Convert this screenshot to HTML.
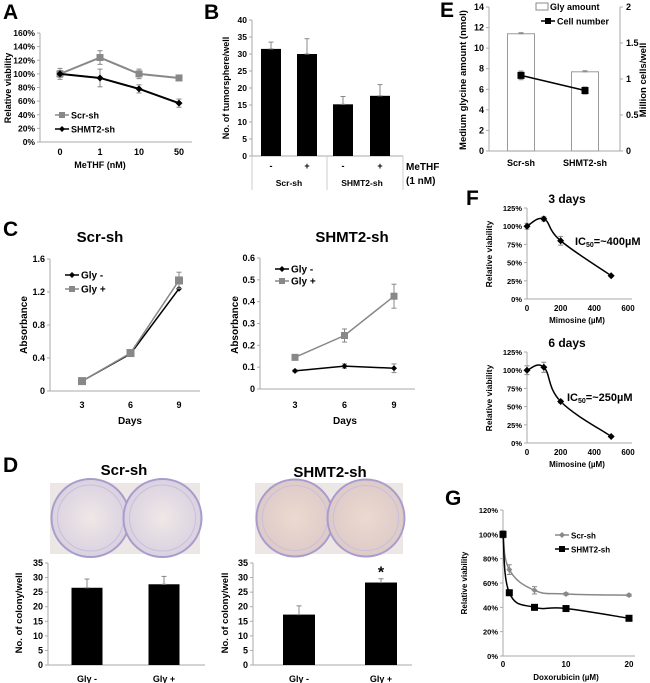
<!DOCTYPE html>
<html><head><meta charset="utf-8"><style>
body{margin:0;background:#fff}
svg{display:block;font-family:"Liberation Sans",Arial,sans-serif;font-weight:bold}
</style></head><body>
<svg id="fig" width="650" height="683" viewBox="0 0 650 683" xmlns="http://www.w3.org/2000/svg">
<defs>
<radialGradient id="dish" cx="50%" cy="50%" r="55%"><stop offset="0" stop-color="#efe8e6"/><stop offset="1" stop-color="#d8cfe0"/></radialGradient>
<radialGradient id="dish2" cx="50%" cy="50%" r="55%"><stop offset="0" stop-color="#ecd9cf"/><stop offset="1" stop-color="#dcc9c8"/></radialGradient>
</defs>
<g id="root"></g>
</svg>
<script>
// ---- Data ----
const aCats=["0","1","10","50"];
const aScr=[100,124,100,94], aScrErr=[8,10,7,2];
const aSh=[100,94,78,57], aShErr=[5,13,6,6];
const aTicks=[0,20,40,60,80,100,120,140,160];
const bVals=[31.5,30,15.2,17.7], bErr=[2,4.5,2.3,3.3];
const bCats=["-","+","-","+"];
const bTicks=[0,5,10,15,20,25,30,35,40];
const eCats=["Scr-sh","SHMT2-sh"];
const eGly=[11.4,7.7], eGlyErr=[0.1,0.1];
const eCells=[1.05,0.84], eCellsErr=[0.06,0.05];
const eTicksL=[0,2,4,6,8,10,12,14], eTicksR=[0,0.5,1,1.5,2];
const cDays=[3,6,9];
const cScrMinus=[0.12,0.45,1.24], cScrPlus=[0.12,0.46,1.34], cScrPlusErr=[0.02,0.03,0.1];
const cShMinus=[0.083,0.105,0.095], cShMinusErr=[0.005,0.01,0.02];
const cShPlus=[0.145,0.245,0.425], cShPlusErr=[0.005,0.03,0.055];
const cTicksScr=[0,0.4,0.8,1.2,1.6], cTicksSh=[0,0.1,0.2,0.3,0.4,0.5,0.6];
const dCats=["Gly -","Gly +"];
const dScr=[26.5,27.7], dScrErr=[3,2.7];
const dSh=[17.3,28.3], dShErr=[3,1.3];
const dTicks=[0,5,10,15,20,25,30,35];
const fDose=[0,100,200,500];
const f3=[100,110,80,32], f3Err=[4,3,6,1];
const f6=[100,104,57,9], f6Err=[6,7,2,1];
const fTicks=[0,25,50,75,100,125], fXTicks=[0,200,400,600];
const gDose=[0,1,5,10,20];
const gScr=[100,71,54,51,50], gScrErr=[3,4,3,1,1];
const gSh=[100,52,40,39,31], gShErr=[1,1,1,1,1];
const gTicks=[0,20,40,60,80,100,120], gXTicks=[0,10,20];

const NS="http://www.w3.org/2000/svg";
const root=document.getElementById('root');
function el(tag,attrs,parent,txt){const e=document.createElementNS(NS,tag);for(const k in attrs)e.setAttribute(k,attrs[k]);if(txt!==undefined)e.textContent=txt;(parent||root).appendChild(e);return e;}
function text(x,y,s,size,name,opts){opts=opts||{};const t=el('text',{x:x,y:y,'font-size':size,'text-anchor':opts.anchor||'middle',fill:opts.fill||'#000'},opts.parent,s);


if(opts.rot)t.setAttribute('transform','rotate(-90 '+x+' '+y+')');return t;}
function line(x1,y1,x2,y2,c,w,name){const l=el('line',{x1:x1,y1:y1,x2:x2,y2:y2,stroke:c||'#aaa','stroke-width':w||1});

return l;}
function lin(d0,d1,r0,r1){return v=>r0+(v-d0)*(r1-r0)/(d1-d0);}
function yAxis(x,y,ticks,fmt,size,name,right){ticks.forEach(t=>{const yy=y(t);line(right?x:x-3,yy,right?x+3:x,yy,'#aaa',1,name+'-tick');text(right?x+6:x-5,yy+3,fmt(t),size,name+'-label',{anchor:right?'start':'end'});});line(x,y(ticks[ticks.length-1]),x,y(ticks[0]),'#aaa',1,name);}
function errBar(x,y1,y2,c,name){const g=el('g',{});
el('line',{x1:x,y1:y1,x2:x,y2:y2,stroke:c,'stroke-width':1},g);el('line',{x1:x-2.5,y1:y1,x2:x+2.5,y2:y1,stroke:c,'stroke-width':1},g);el('line',{x1:x-2.5,y1:y2,x2:x+2.5,y2:y2,stroke:c,'stroke-width':1},g);}
function marker(x,y,shape,c,s,name){let m;if(shape==='sq')m=el('rect',{x:x-s,y:y-s,width:2*s,height:2*s,fill:c});else m=el('path',{d:`M${x} ${y-s}L${x+s} ${y}L${x} ${y+s}L${x-s} ${y}Z`,fill:c});

}
function series(xs,vals,errs,x,y,c,shape,s,name,w,smooth){const pts=vals.map((v,i)=>[x(xs[i]),y(v)]);
let d='M'+pts.map(p=>p.join(' ')).join('L');
if(smooth){d='M'+pts[0][0]+' '+pts[0][1];for(let i=0;i<pts.length-1;i++){const p0=pts[Math.max(0,i-1)],p1=pts[i],p2=pts[i+1],p3=pts[Math.min(pts.length-1,i+2)];const t=0.2;d+=`C${p1[0]+(p2[0]-p0[0])*t} ${p1[1]+(p2[1]-p0[1])*t} ${p2[0]-(p3[0]-p1[0])*t} ${p2[1]-(p3[1]-p1[1])*t} ${p2[0]} ${p2[1]}`;}}
const p=el('path',{d:d,fill:'none',stroke:c,'stroke-width':w||1.5});


if(errs)vals.forEach((v,i)=>errBar(pts[i][0],y(v+errs[i]),y(v-errs[i]),'#888',name+'-error'));
pts.forEach(p=>marker(p[0],p[1],shape,c,s,name+'-point'));}
function legend(x,y,shape,c,label,size,name){const l=line(x,y,x+14,y,c,1.5,name+'-swatch');marker(x+7,y,shape,c,3,name+'-marker');text(x+16,y+3.5,label,size,name,{anchor:'start'});}
function bars(cx,vals,errs,y,w,fill,stroke,name){vals.forEach((v,i)=>{const r=el('rect',{x:cx[i]-w/2,y:y(v),width:w,height:y(0)-y(v),fill:fill,stroke:stroke||'none'});


if(errs)errBar(cx[i],y(v+errs[i]),y(v),'#888',name+'-error');});}
const pct=t=>t+'%';

// Panel letters
[["A",3,19],["B",204,19],["E",440,17],["C",3,236],["F",466,205],["D",3,472],["G",445,505]].forEach(p=>text(p[1],p[2],p[0],21,'panel-label-'+p[0].toLowerCase(),{anchor:'start'}));

// ---- A ----
{const y=lin(0,160,142,33);const x=i=>[60,100,139,179][i];
yAxis(40,y,aTicks,pct,8.5,'a-y-axis');line(40,142,192,142,'#aaa',1,'a-x-axis');
aCats.forEach((c,i)=>text(x(i),155,c,9,'a-x-label'));
text(100,168,'MeTHF (nM)',9,'a-x-title');text(11,88,'Relative viability',9,'a-y-title',{rot:1});
const idx=[0,1,2,3];
series(idx,aScr,aScrErr,x,y,'#888','sq',3.5,'a-scr-sh',2);
series(idx,aSh,aShErr,x,y,'#000','dia',3.5,'a-shmt2-sh',2);
legend(55,115,'sq','#888','Scr-sh',9,'a-legend-scr');legend(55,129,'dia','#000','SHMT2-sh',9,'a-legend-shmt2');}

// ---- B ----
{const y=lin(0,40,156,20);const cx=[271,307,343,380];
yAxis(252,y,bTicks,String,8.5,'b-y-axis');line(252,156,403,156,'#aaa',1,'b-x-axis');
bars(cx,bVals,bErr,y,20,'#000',null,'b-bar');
bCats.forEach((c,i)=>text(cx[i],169,c,9,'b-x-label'));
line(252,156,252,190,'#ccc',1,'b-sep');line(327,156,327,190,'#ccc',1,'b-sep');line(403,156,403,190,'#ccc',1,'b-sep');
text(289,186,'Scr-sh',8.5,'b-group-label');text(362,186,'SHMT2-sh',8.5,'b-group-label');
text(406,170,'MeTHF',10,'b-legend-title',{anchor:'start'});text(406,184,'(1 nM)',10,'b-legend-title',{anchor:'start'});
text(229,88,'No. of tumorsphere/well',9,'b-y-title',{rot:1});}

// ---- E ----
{const y=lin(0,14,151,7), yr=lin(0,2,151,7);const cx=[521,585];
yAxis(489,y,eTicksL,String,9,'e-y-axis');yAxis(620,yr,eTicksR,String,9,'e-y2-axis',1);
line(489,151,620,151,'#aaa',1,'e-x-axis');
bars(cx,eGly,eGlyErr,y,27,'#fff','#999','e-gly-bar');
series([0,1],eCells,eCellsErr,i=>cx[i],yr,'#000','sq',3.5,'e-cell-number',1.5);
eCats.forEach((c,i)=>text(cx[i],166,c,9,'e-x-label'));
text(466,80,'Medium glycine amount (nmol)',9.5,'e-y-title',{rot:1});text(646,80,'Million cells/well',9.5,'e-y2-title',{rot:1});
const r=el('rect',{x:536,y:3,width:12,height:7,fill:'#fff',stroke:'#888'});
text(550,10,'Gly amount',9,'e-legend-gly',{anchor:'start'});legend(541,21,'sq','#000','Cell number',9,'e-legend-cells');}

// ---- C ----
{const y=lin(0,1.6,391,259), x=lin(3,9,82,179);
text(100,242,'Scr-sh',15,'c-scr-title');
yAxis(50,y,cTicksScr,t=>t===0?'0':t.toFixed(1),9,'c-scr-y-axis');line(50,391,200,391,'#aaa',1,'c-scr-x-axis');
cDays.forEach(d=>text(x(d),408,String(d),9,'c-scr-x-label'));text(130,424,'Days',10,'c-scr-x-title');text(27,325,'Absorbance',10,'c-scr-y-title',{rot:1});
series(cDays,cScrMinus,null,x,y,'#000','dia',3,'c-scr-gly-minus',1.5);
series(cDays,cScrPlus,cScrPlusErr,x,y,'#888','sq',4,'c-scr-gly-plus',1.5);
legend(65,275,'dia','#000','Gly -',10,'c-scr-legend-minus');legend(65,289,'sq','#888','Gly +',10,'c-scr-legend-plus');}
{const y=lin(0,0.6,389,258), x=lin(3,9,295,394);
text(352,242,'SHMT2-sh',15,'c-shmt2-title');
yAxis(260,y,cTicksSh,t=>t===0?'0':t.toFixed(1),9,'c-sh-y-axis');line(260,389,415,389,'#aaa',1,'c-sh-x-axis');
cDays.forEach(d=>text(x(d),408,String(d),9,'c-sh-x-label'));text(345,424,'Days',10,'c-sh-x-title');text(238,325,'Absorbance',10,'c-sh-y-title',{rot:1});
series(cDays,cShMinus,cShMinusErr,x,y,'#000','dia',3,'c-sh-gly-minus',1.5);
series(cDays,cShPlus,cShPlusErr,x,y,'#888','sq',3.5,'c-sh-gly-plus',1.5);
legend(275,269,'dia','#000','Gly -',10,'c-sh-legend-minus');legend(275,281,'sq','#888','Gly +',10,'c-sh-legend-plus');}

// ---- D ----
function photo(x,w,fill,name){const g=el('g',{});
el('rect',{x:x,y:483,width:w,height:71,fill:'#ece6e4'},g);
[x+w*0.27,x+w*0.75].forEach(c=>{el('circle',{cx:c,cy:518,r:w*0.26,fill:'url(#'+fill+')',stroke:'#a89ccd','stroke-width':2},g);el('circle',{cx:c,cy:518,r:w*0.22,fill:'none',stroke:'#c8bfdc','stroke-width':1},g);});}
photo(50,150,'dish','d-scr-photo');photo(255,148,'dish2','d-shmt2-photo');
text(124,475,'Scr-sh',15,'d-scr-title');text(330,477,'SHMT2-sh',15,'d-shmt2-title');
{const y=lin(0,35,665,563);
yAxis(48,y,dTicks,String,9,'d-scr-y-axis');line(48,665,205,665,'#aaa',1,'d-scr-x-axis');
bars([87,164],dScr,dScrErr,y,31,'#000',null,'d-scr-bar');dCats.forEach((c,i)=>text([87,164][i],682,c,9,'d-scr-x-label'));
text(22,613,'No. of colony/well',9.5,'d-scr-y-title',{rot:1});
yAxis(253,y,dTicks,String,9,'d-sh-y-axis');line(253,665,412,665,'#aaa',1,'d-sh-x-axis');
bars([299,381],dSh,dShErr,y,32,'#000',null,'d-sh-bar');dCats.forEach((c,i)=>text([299,381][i],682,c,9,'d-sh-x-label'));
text(228,613,'No. of colony/well',9.5,'d-sh-y-title',{rot:1});
text(381,y(dSh[1]+dShErr[1])-1,'*',16,'d-significance-star');}

// ---- F ----
function fPanel(y0,title,vals,errs,ic,tag){const y=lin(0,125,y0,y0-91), x=lin(0,600,527,628);
text(567,y0-96,title,12,tag+'-title');
yAxis(527,y,fTicks,pct,7.5,tag+'-y-axis');line(527,y0,632,y0,'#aaa',1,tag+'-x-axis');
fXTicks.forEach(t=>text(x(t),y0+12,String(t),8,tag+'-x-label'));
text(577,y0+24,'Mimosine (µM)',8,tag+'-x-title');text(492,y0-45,'Relative viability',8.5,tag+'-y-title',{rot:1});
series(fDose,vals,errs,x,y,'#000','dia',3.5,tag+'-mimosine',1.5,true);
const t=el('text',{x:ic[0],y:ic[1],'font-size':11},root);
t.innerHTML='IC<tspan font-size="7" dy="2">50</tspan><tspan dy="-2">='+ic[2]+'</tspan>';}
fPanel(299,'3 days',f3,f3Err,[575,245,'~400µM'],'f-3days');
fPanel(443,'6 days',f6,f6Err,[567,401,'~250µM'],'f-6days');

// ---- G ----
{const y=lin(0,120,656,510), x=lin(0,20,503,629);
yAxis(503,y,gTicks,pct,7.5,'g-y-axis');line(503,656,635,656,'#aaa',1,'g-x-axis');
gXTicks.forEach(t=>text(x(t),667,String(t),8,'g-x-label'));
text(566,680,'Doxorubicin (µM)',8,'g-x-title');text(467,583,'Relative viability',8,'g-y-title',{rot:1});
series(gDose,gScr,gScrErr,x,y,'#888','dia',3,'g-scr-sh',1.5,true);
series(gDose,gSh,gShErr,x,y,'#000','sq',3.5,'g-shmt2-sh',1.5,true);
legend(555,535,'dia','#888','Scr-sh',8,'g-legend-scr');legend(555,549,'sq','#000','SHMT2-sh',8,'g-legend-shmt2');}
</script>
</body></html>
